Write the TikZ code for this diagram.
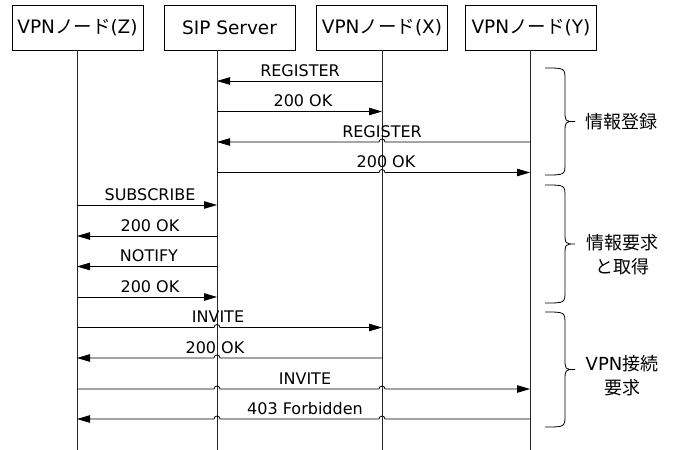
\documentclass[tikz,border=0pt]{standalone}
\usepackage{fontspec}
\setmainfont{DejaVu Sans}
\newfontfamily\jp{Noto Sans CJK JP}
\usepackage{tikz}
\usetikzlibrary{arrows.meta, calc, positioning}

\begin{document}
\begin{tikzpicture}[x=1pt, y=1pt,
  actor/.style={draw, line width=0.8pt, minimum width=131pt, minimum height=45pt, inner sep=0pt, font=\fontsize{18.5}{20}\selectfont},
  life/.style={line width=0.8pt, black!85},
  msg/.style={line width=0.8pt, -{Triangle[length=13pt, width=7.5pt]}},
  lbl/.style={anchor=base, inner sep=0pt, font=\fontsize{16}{18}\selectfont},
  grp/.style={align=center, font=\fontsize{18}{24}\selectfont}]

\useasboundingbox (0,0) rectangle (675,-450);

% Actors
\node[actor] (z) at (77.5,-27.5) {VPN{\jp ノード}(Z)};
\node[actor] (sip) at (229.5,-27.5) {SIP Server};
\node[actor] (x) at (382,-27.5) {VPN{\jp ノード}(X)};
\node[actor] (y) at (531,-27.5) {VPN{\jp ノード}(Y)};

% Lifelines
\coordinate (lz) at (77,-50);
\coordinate (ls) at (217,-50);
\coordinate (lx) at (382,-50);
\coordinate (ly) at (530,-50);
\coordinate (bot) at (0,-450);
\foreach \l in {lz,ls,lx,ly}
  \draw[life] (\l) -- (\l |- bot);

% Message rows
\coordinate (m1) at (0,-81);
\coordinate (m2) at (0,-111.5);
\coordinate (m3) at (0,-142);
\coordinate (m4) at (0,-172.5);
\coordinate (m5) at (0,-205);
\coordinate (m6) at (0,-236);
\coordinate (m7) at (0,-266.5);
\coordinate (m8) at (0,-297);
\coordinate (m9) at (0,-327.5);
\coordinate (m10) at (0,-358);
\coordinate (m11) at (0,-389);
\coordinate (m12) at (0,-419);

% Registration
\draw[msg] (lx |- m1) -- (ls |- m1);
\node[lbl] (t1) at (300,-76) {REGISTER};
\draw[msg] (ls |- m2) -- (lx |- m2);
\node[lbl] (t2) at (303,-106.5) {200 OK};
\draw[msg] (ly |- m3) -- ($(lx |- m3)+(3,0)$) arc[start angle=0, end angle=180, radius=3] -- (ls |- m3);
\node[lbl] (t3) at (382,-137) {REGISTER};
\draw[msg] (ls |- m4) -- ($(lx |- m4)-(3,0)$) arc[start angle=180, end angle=0, radius=3] -- (ly |- m4);
\node[lbl] (t4) at (386,-167.5) {200 OK};

% Subscribe / notify
\draw[msg] (lz |- m5) -- (ls |- m5);
\node[lbl] (t5) at (150,-200) {SUBSCRIBE};
\draw[msg] (ls |- m6) -- (lz |- m6);
\node[lbl] (t6) at (150,-231) {200 OK};
\draw[msg] (ls |- m7) -- (lz |- m7);
\node[lbl] (t7) at (149,-261.5) {NOTIFY};
\draw[msg] (lz |- m8) -- (ls |- m8);
\node[lbl] (t8) at (150,-292) {200 OK};

% Connection request
\draw[msg] (lz |- m9) -- ($(ls |- m9)-(3,0)$) arc[start angle=180, end angle=0, radius=3] -- (lx |- m9);
\node[lbl] (t9) at (218,-322.5) {INVITE};
\draw[msg] (lx |- m10) -- ($(ls |- m10)+(3,0)$) arc[start angle=0, end angle=180, radius=3] -- (lz |- m10);
\node[lbl] (t10) at (215,-353) {200 OK};
\draw[msg] (lz |- m11) -- ($(ls |- m11)-(3,0)$) arc[start angle=180, end angle=0, radius=3]
  -- ($(lx |- m11)-(3,0)$) arc[start angle=180, end angle=0, radius=3] -- (ly |- m11);
\node[lbl] (t11) at (305,-384) {INVITE};
\draw[msg] (ly |- m12) -- ($(lx |- m12)+(3,0)$) arc[start angle=0, end angle=180, radius=3]
  -- ($(ls |- m12)+(3,0)$) arc[start angle=0, end angle=180, radius=3] -- (lz |- m12);
\node[lbl] (t12) at (305,-414) {403 Forbidden};

% Braces
\draw[line width=0.8pt] (545,-68) .. controls (565,-68) .. (565,-80) -- (565,-110)
  .. controls (565,-121.5) .. (575,-121.5) .. controls (565,-121.5) .. (565,-133)
  -- (565,-163) .. controls (565,-175) .. (545,-175);
\draw[line width=0.8pt] (545,-185) .. controls (565,-185) .. (565,-197) -- (565,-232)
  .. controls (565,-244) .. (575,-244) .. controls (565,-244) .. (565,-256)
  -- (565,-291) .. controls (565,-303) .. (545,-303);
\draw[line width=0.8pt] (545,-312) .. controls (565,-312) .. (565,-324) -- (565,-358)
  .. controls (565,-369.5) .. (575,-369.5) .. controls (565,-369.5) .. (565,-381)
  -- (565,-415) .. controls (565,-427) .. (545,-427);

\node[grp] (g1) at (621,-122) {\jp 情報登録};
\node[grp] (g2) at (622,-255) {\jp 情報要求\\\jp と取得};
\node[grp] (g3) at (622,-376) {VPN{\jp 接続}\\\jp 要求};

\end{tikzpicture}
\end{document}
